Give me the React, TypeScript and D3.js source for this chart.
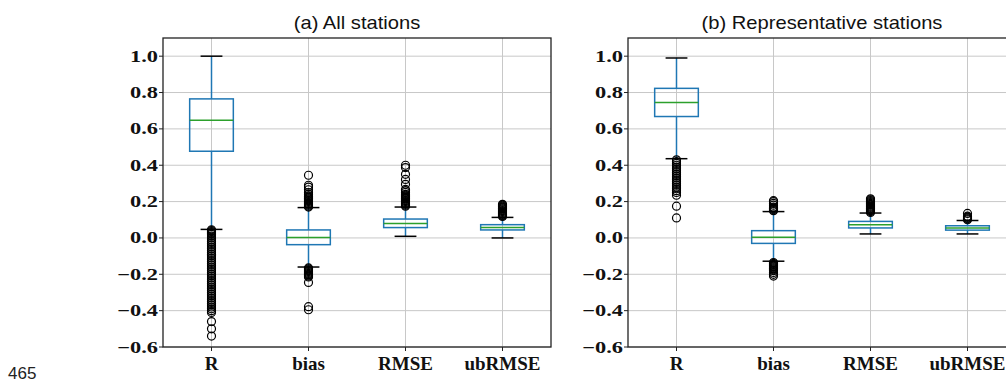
import React from 'react';
import * as d3 from 'd3';

const categories = ['R', 'bias', 'RMSE', 'ubRMSE'];
const yTicks = [-0.6, -0.4, -0.2, 0.0, 0.2, 0.4, 0.6, 0.8, 1.0];

// (a) All stations: whisker low, q1, median, q3, whisker high
const allLow = [0.047, -0.16, 0.009, 0.0];
const allQ1 = [0.477, -0.037, 0.057, 0.044];
const allMed = [0.648, 0.003, 0.08, 0.058];
const allQ3 = [0.765, 0.044, 0.104, 0.073];
const allHigh = [1.0, 0.167, 0.17, 0.113];
const allOutR = [0.045, 0.04, 0.035, 0.03, 0.025, 0.02, 0.01, 0.0, -0.01, -0.02, -0.03, -0.04, -0.05, -0.06, -0.07, -0.08, -0.09, -0.1, -0.11, -0.12, -0.13, -0.14, -0.15, -0.16, -0.17, -0.18, -0.19, -0.2, -0.21, -0.22, -0.23, -0.24, -0.25, -0.26, -0.27, -0.28, -0.29, -0.3, -0.31, -0.32, -0.33, -0.34, -0.35, -0.36, -0.37, -0.38, -0.39, -0.4, -0.41, -0.46, -0.5, -0.54];
const allOutBias = [0.17, 0.175, 0.18, 0.185, 0.19, 0.195, 0.2, 0.205, 0.21, 0.215, 0.22, 0.225, 0.23, 0.24, 0.25, 0.265, 0.28, 0.29, 0.345, -0.165, -0.17, -0.175, -0.18, -0.185, -0.19, -0.195, -0.2, -0.205, -0.21, -0.215, -0.245, -0.378, -0.395];
const allOutRmse = [0.175, 0.18, 0.185, 0.19, 0.195, 0.2, 0.205, 0.21, 0.215, 0.22, 0.225, 0.23, 0.235, 0.24, 0.25, 0.26, 0.267, 0.295, 0.322, 0.35, 0.387, 0.4];
const allOutUb = [0.118, 0.122, 0.126, 0.13, 0.135, 0.14, 0.145, 0.15, 0.155, 0.16, 0.165, 0.17, 0.175, 0.18, 0.185];

// (b) Representative stations
const repLow = [0.436, -0.128, 0.022, 0.022];
const repQ1 = [0.668, -0.03, 0.055, 0.043];
const repMed = [0.745, 0.004, 0.072, 0.055];
const repQ3 = [0.823, 0.04, 0.091, 0.067];
const repHigh = [0.99, 0.145, 0.137, 0.096];
const repOutR = [0.43, 0.42, 0.41, 0.4, 0.39, 0.38, 0.37, 0.36, 0.35, 0.34, 0.33, 0.32, 0.31, 0.3, 0.29, 0.28, 0.27, 0.26, 0.25, 0.235, 0.175, 0.11];
const repOutBias = [0.15, 0.155, 0.16, 0.165, 0.17, 0.18, 0.19, 0.2, 0.205, -0.135, -0.14, -0.145, -0.15, -0.155, -0.16, -0.165, -0.17, -0.175, -0.18, -0.19, -0.2, -0.21];
const repOutRmse = [0.14, 0.145, 0.15, 0.155, 0.16, 0.165, 0.17, 0.175, 0.18, 0.185, 0.19, 0.195, 0.2, 0.205, 0.21, 0.215];
const repOutUb = [0.1, 0.105, 0.11, 0.115, 0.12, 0.135];

const panels = [
  { title: '(a) All stations', left: 163, low: allLow, q1: allQ1, med: allMed, q3: allQ3, high: allHigh, out: [allOutR, allOutBias, allOutRmse, allOutUb] },
  { title: '(b) Representative stations', left: 628, low: repLow, q1: repQ1, med: repMed, q3: repQ3, high: repHigh, out: [repOutR, repOutBias, repOutRmse, repOutUb] },
];

const W = 388;
const top = 38;
const bottom = 347;
const blue = '#1f77b4';
const green = '#2ca02c';
const serif = '"Liberation Serif", "Times New Roman", serif';
const sans = '"Liberation Sans", Arial, sans-serif';

const Panel = ({ p }: { p: typeof panels[0] }) => {
  const x = d3.scaleLinear().domain([0.5, 4.5]).range([p.left, p.left + W]);
  const y = d3.scaleLinear().domain([-0.6, 1.1]).range([bottom, top]);
  const bw = 0.45 * (x(2) - x(1));
  const cw = bw / 2;
  const fmt = d3.format('.1f');
  return (
    <g>
      <g transform={`translate(${p.left + W / 2},${top - 9}) scale(1.12,1)`}>
        <text textAnchor="middle" fontFamily={sans} fontSize={18} fill="#111">{p.title}</text>
      </g>
      {yTicks.map((t) => (
        <line key={'gy' + t} x1={p.left} x2={p.left + W} y1={y(t)} y2={y(t)} stroke="#c8c8c8" strokeWidth={1} />
      ))}
      {categories.map((c, i) => (
        <line key={'gx' + c} x1={x(i + 1)} x2={x(i + 1)} y1={top} y2={bottom} stroke="#c8c8c8" strokeWidth={1} />
      ))}
      {categories.map((c, i) => {
        const cx = x(i + 1);
        return (
          <g key={c}>
            <line x1={cx} x2={cx} y1={y(p.low[i])} y2={y(p.q1[i])} stroke={blue} strokeWidth={1.5} />
            <line x1={cx} x2={cx} y1={y(p.q3[i])} y2={y(p.high[i])} stroke={blue} strokeWidth={1.5} />
            <line x1={cx - cw / 2} x2={cx + cw / 2} y1={y(p.low[i])} y2={y(p.low[i])} stroke="#000" strokeWidth={1.5} />
            <line x1={cx - cw / 2} x2={cx + cw / 2} y1={y(p.high[i])} y2={y(p.high[i])} stroke="#000" strokeWidth={1.5} />
            <rect x={cx - bw / 2} y={y(p.q3[i])} width={bw} height={y(p.q1[i]) - y(p.q3[i])} fill="none" stroke={blue} strokeWidth={1.5} />
            <line x1={cx - bw / 2} x2={cx + bw / 2} y1={y(p.med[i])} y2={y(p.med[i])} stroke={green} strokeWidth={1.5} />
            {p.out[i].map((v, k) => (
              <circle key={k} cx={cx} cy={y(v)} r={4} fill="none" stroke="#000" strokeWidth={1.2} />
            ))}
          </g>
        );
      })}
      <rect x={p.left} y={top} width={W} height={bottom - top} fill="none" stroke="#222" strokeWidth={1.3} />
      {yTicks.map((t) => (
        <g key={'ty' + t}>
          <line x1={p.left - 4} x2={p.left} y1={y(t)} y2={y(t)} stroke="#222" strokeWidth={1} />
          <g transform={`translate(${p.left - 5},${y(t) + 5.5}) scale(1.4,1)`}>
            <text textAnchor="end" fontFamily={serif} fontWeight="bold" fontSize={16} fill="#111">
              {fmt(t).replace('-', '\u2212')}
            </text>
          </g>
        </g>
      ))}
      {categories.map((c, i) => (
        <g key={'tx' + c}>
          <line x1={x(i + 1)} x2={x(i + 1)} y1={bottom} y2={bottom + 4} stroke="#222" strokeWidth={1} />
          <text x={x(i + 1)} y={bottom + 23} textAnchor="middle" fontFamily={serif} fontWeight="bold" fontSize={19} fill="#111">
            {c}
          </text>
        </g>
      ))}
    </g>
  );
};

export default function App() {
  return (
    <svg width={1006} height={384} style={{ position: 'absolute', left: 0, top: 0, background: '#fff' }}>
      <rect width={1006} height={384} fill="#fff" />
      {panels.map((p) => (
        <Panel key={p.title} p={p} />
      ))}
      <text x={8} y={379} fontFamily={sans} fontSize={17} fill="#222">465</text>
    </svg>
  );
}
